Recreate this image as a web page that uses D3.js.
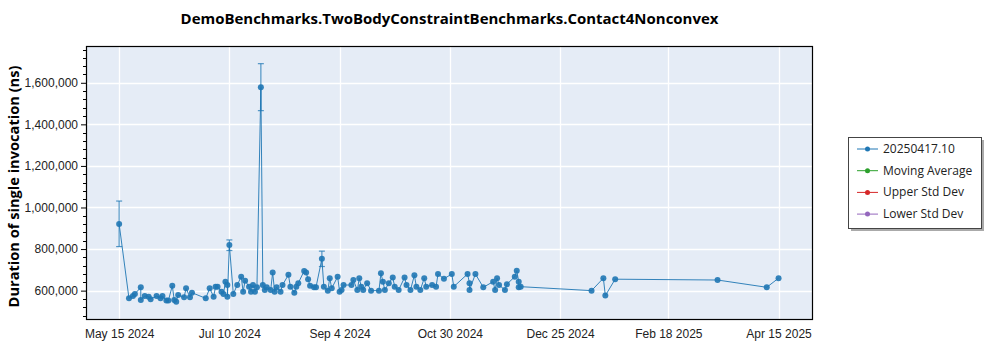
<!DOCTYPE html>
<html>
<head>
<meta charset="utf-8">
<script src="https://cdn.jsdelivr.net/npm/d3@7"></script>
<style>
  html, body { margin: 0; padding: 0; background: #fff; }
  svg { display: block; font-family: "Open Sans", "Noto Sans", sans-serif; }
</style>
</head>
<body>
<svg id="chart" width="1000" height="350"></svg>
<script>
const title = "DemoBenchmarks.TwoBodyConstraintBenchmarks.Contact4Nonconvex";
const yAxisTitle = "Duration of single invocation (ns)";
const seriesName = "20250417.10";
const legendLabels = ["20250417.10", "Moving Average", "Upper Std Dev", "Lower Std Dev"];
const legendColors = ["#1f77b4", "#2ca02c", "#d62728", "#9467bd"];

const dates = [
  "2024-05-15","2024-05-20","2024-05-22","2024-05-23","2024-05-26","2024-05-26","2024-05-28","2024-05-30","2024-05-31","2024-06-03",
  "2024-06-05","2024-06-06","2024-06-08","2024-06-09","2024-06-11","2024-06-12","2024-06-13","2024-06-14","2024-06-17","2024-06-18",
  "2024-06-20","2024-06-21","2024-06-28","2024-06-30","2024-07-02","2024-07-03","2024-07-04","2024-07-06","2024-07-07","2024-07-08",
  "2024-07-09","2024-07-09","2024-07-10","2024-07-12","2024-07-14","2024-07-16","2024-07-17","2024-07-18","2024-07-20","2024-07-21",
  "2024-07-22","2024-07-23","2024-07-24","2024-07-26","2024-07-27","2024-07-28","2024-07-29","2024-07-31","2024-08-01","2024-08-02",
  "2024-08-03","2024-08-05","2024-08-06","2024-08-09","2024-08-10","2024-08-12","2024-08-13","2024-08-14","2024-08-17","2024-08-18",
  "2024-08-19","2024-08-20","2024-08-22","2024-08-23","2024-08-26","2024-08-27","2024-08-29","2024-08-30","2024-08-31","2024-09-03",
  "2024-09-04","2024-09-05","2024-09-06","2024-09-10","2024-09-11","2024-09-13","2024-09-14","2024-09-15","2024-09-16","2024-09-18",
  "2024-09-20","2024-09-24","2024-09-25","2024-09-26","2024-09-27","2024-09-29","2024-10-01","2024-10-02","2024-10-04","2024-10-07",
  "2024-10-08","2024-10-10","2024-10-12","2024-10-13","2024-10-15","2024-10-17","2024-10-18","2024-10-21","2024-10-23","2024-10-24",
  "2024-10-27","2024-10-31","2024-11-01","2024-11-08","2024-11-09","2024-11-09","2024-11-12","2024-11-16","2024-11-21","2024-11-22",
  "2024-11-23","2024-11-24","2024-11-27","2024-11-28","2024-12-02","2024-12-03","2024-12-04","2024-12-04","2024-12-05","2025-01-10",
  "2025-01-16","2025-01-17","2025-01-22","2025-03-15","2025-04-09","2025-04-15"
];
const values = [
  921000,563000,574000,584000,616000,555000,574000,571000,559000,574000,
  563000,574000,552000,552000,623000,555000,547000,579000,568000,611000,
  568000,590000,563000,611000,571000,619000,619000,595000,584000,643000,
  627000,571000,819000,584000,627000,667000,595000,648000,619000,595000,
  627000,595000,616000,1578000,627000,603000,616000,603000,687000,595000,
  616000,595000,627000,676000,619000,590000,619000,636000,695000,687000,
  655000,623000,616000,616000,753000,619000,600000,660000,611000,667000,
  595000,603000,627000,627000,651000,603000,660000,619000,603000,636000,
  600000,600000,684000,643000,603000,636000,663000,619000,603000,663000,
  627000,603000,674000,619000,603000,660000,619000,627000,619000,680000,
  657000,680000,619000,680000,636000,603000,680000,616000,643000,603000,
  660000,627000,603000,631000,667000,696000,643000,616000,619000,600000,
  660000,576000,655000,651000,616000,660000
];
// visible error bars
const errDates = ["2024-05-15", "2024-07-10", "2024-07-26", "2024-08-26"];
const errLow   = [812000, 793000, 1466000, 716000];
const errHigh  = [1031000, 844000, 1692000, 790000];

const yTickValues = [600000, 800000, 1000000, 1200000, 1400000, 1600000];
const xTickDates = ["2024-05-15", "2024-07-10", "2024-09-04", "2024-10-30", "2024-12-25", "2025-02-18", "2025-04-15"];
const xTickLabels = ["May 15 2024", "Jul 10 2024", "Sep 4 2024", "Oct 30 2024", "Dec 25 2024", "Feb 18 2025", "Apr 15 2025"];

const parse = d3.utcParse("%Y-%m-%d");
const plot = { left: 86, right: 813, top: 46, bottom: 319 };

const svg = d3.select("#chart");

const x = d3.scaleUtc()
  .domain([new Date(Date.UTC(2024, 3, 28, 4)), new Date(Date.UTC(2025, 4, 2, 12))])
  .range([plot.left, plot.right]);
const y = d3.scaleLinear()
  .domain([463500, 1777000])
  .range([plot.bottom, plot.top]);

// background
svg.append("rect")
  .attr("x", plot.left).attr("y", plot.top)
  .attr("width", plot.right - plot.left).attr("height", plot.bottom - plot.top)
  .attr("fill", "#e5ecf6");

// grid
const grid = svg.append("g");
grid.selectAll("line.gy").data(yTickValues).join("line")
  .attr("x1", plot.left).attr("x2", plot.right)
  .attr("y1", d => Math.round(y(d)) + 0.5).attr("y2", d => Math.round(y(d)) + 0.5)
  .attr("stroke", "#fff").attr("stroke-width", 1.3);
grid.selectAll("line.gx").data(xTickDates).join("line")
  .attr("x1", d => Math.round(x(parse(d))) + 0.5).attr("x2", d => Math.round(x(parse(d))) + 0.5)
  .attr("y1", plot.top).attr("y2", plot.bottom)
  .attr("stroke", "#fff").attr("stroke-width", 1.3);

// y axis
const yMinor = d3.range(480000, 1777000, 40000).filter(v => v % 200000 !== 0);
const yAxis = d3.axisLeft(y).tickValues(yTickValues)
  .tickFormat(d3.format(",")).tickSize(5).tickPadding(3);
const gy = svg.append("g").attr("transform", `translate(${plot.left},0)`).call(yAxis);
gy.select(".domain").remove();
gy.selectAll("text").attr("font-size", 12).attr("fill", "#222");
gy.selectAll("line").attr("stroke", "#000");
svg.append("g").selectAll("line").data(yMinor).join("line")
  .attr("x1", plot.left - 3).attr("x2", plot.left)
  .attr("y1", d => Math.round(y(d)) + 0.5).attr("y2", d => Math.round(y(d)) + 0.5)
  .attr("stroke", "#000");

// x axis
const xAxis = d3.axisBottom(x).tickValues(xTickDates.map(parse))
  .tickFormat((d, i) => xTickLabels[i]).tickSize(0).tickPadding(10);
const gx = svg.append("g").attr("transform", `translate(0,${plot.bottom})`).call(xAxis);
gx.select(".domain").remove();
gx.selectAll("text").attr("font-size", 12).attr("fill", "#222");

// series
const pts = dates.map((d, i) => ({ date: parse(d), value: values[i] }));
const clipId = "plotclip";
svg.append("clipPath").attr("id", clipId).append("rect")
  .attr("x", plot.left).attr("y", plot.top)
  .attr("width", plot.right - plot.left).attr("height", plot.bottom - plot.top);
const series = svg.append("g").attr("clip-path", `url(#${clipId})`);

const line = d3.line().x(d => x(d.date)).y(d => y(d.value));
series.append("path").datum(pts)
  .attr("d", line).attr("fill", "none")
  .attr("stroke", "#1f77b4").attr("stroke-width", 1).attr("stroke-opacity", 0.9);

// error bars
const errs = errDates.map((d, i) => ({ date: parse(d), lo: errLow[i], hi: errHigh[i] }));
const eb = series.append("g").attr("stroke", "#1f77b4").attr("stroke-opacity", 0.75).attr("stroke-width", 1.2);
errs.forEach(e => {
  const cx = x(e.date);
  eb.append("line").attr("x1", cx).attr("x2", cx).attr("y1", y(e.lo)).attr("y2", y(e.hi));
  eb.append("line").attr("x1", cx - 3).attr("x2", cx + 3).attr("y1", y(e.lo)).attr("y2", y(e.lo));
  eb.append("line").attr("x1", cx - 3).attr("x2", cx + 3).attr("y1", y(e.hi)).attr("y2", y(e.hi));
});

series.append("g").selectAll("circle").data(pts).join("circle")
  .attr("cx", d => x(d.date)).attr("cy", d => y(d.value)).attr("r", 3)
  .attr("fill", "#1f77b4").attr("fill-opacity", 0.9);

// frame
svg.append("rect")
  .attr("x", plot.left + 0.5).attr("y", plot.top + 0.5)
  .attr("width", plot.right - plot.left - 1).attr("height", plot.bottom - plot.top)
  .attr("fill", "none").attr("stroke", "#000").attr("stroke-width", 1.2);

// fit text helper
function fit(sel, width) {
  const w = sel.node().getComputedTextLength();
  const fs = parseFloat(sel.attr("font-size"));
  sel.attr("font-size", fs * width / w);
}

// title
const t = svg.append("text")
  .attr("x", (plot.left + plot.right) / 2).attr("y", 24)
  .attr("text-anchor", "middle").attr("font-weight", "bold")
  .attr("font-size", 15).attr("fill", "#000").text(title);
fit(t, 538);

// y axis title
const yt = svg.append("text")
  .attr("transform", `translate(19,${(plot.top + plot.bottom) / 2 + 4}) rotate(-90)`)
  .attr("text-anchor", "middle").attr("font-weight", "bold")
  .attr("font-size", 16).attr("fill", "#000").text(yAxisTitle);
fit(yt, 242);

// legend
const lg = svg.append("g").attr("transform", "translate(848,137)");
lg.append("rect").attr("x", 3).attr("y", 3).attr("width", 133).attr("height", 91).attr("fill", "#aaa");
lg.append("rect").attr("x", 0.5).attr("y", 0.5).attr("width", 133).attr("height", 91)
  .attr("fill", "#fff").attr("stroke", "#444");
legendLabels.forEach((lab, i) => {
  const ry = 12 + i * 21.7;
  lg.append("line").attr("x1", 9).attr("x2", 30).attr("y1", ry).attr("y2", ry)
    .attr("stroke", legendColors[i]).attr("stroke-width", 1);
  lg.append("circle").attr("cx", 19.5).attr("cy", ry).attr("r", 2.5).attr("fill", legendColors[i]);
  lg.append("text").attr("x", 35).attr("y", ry + 4).attr("font-size", 12).attr("fill", "#222").text(lab);
});
</script>
</body>
</html>
